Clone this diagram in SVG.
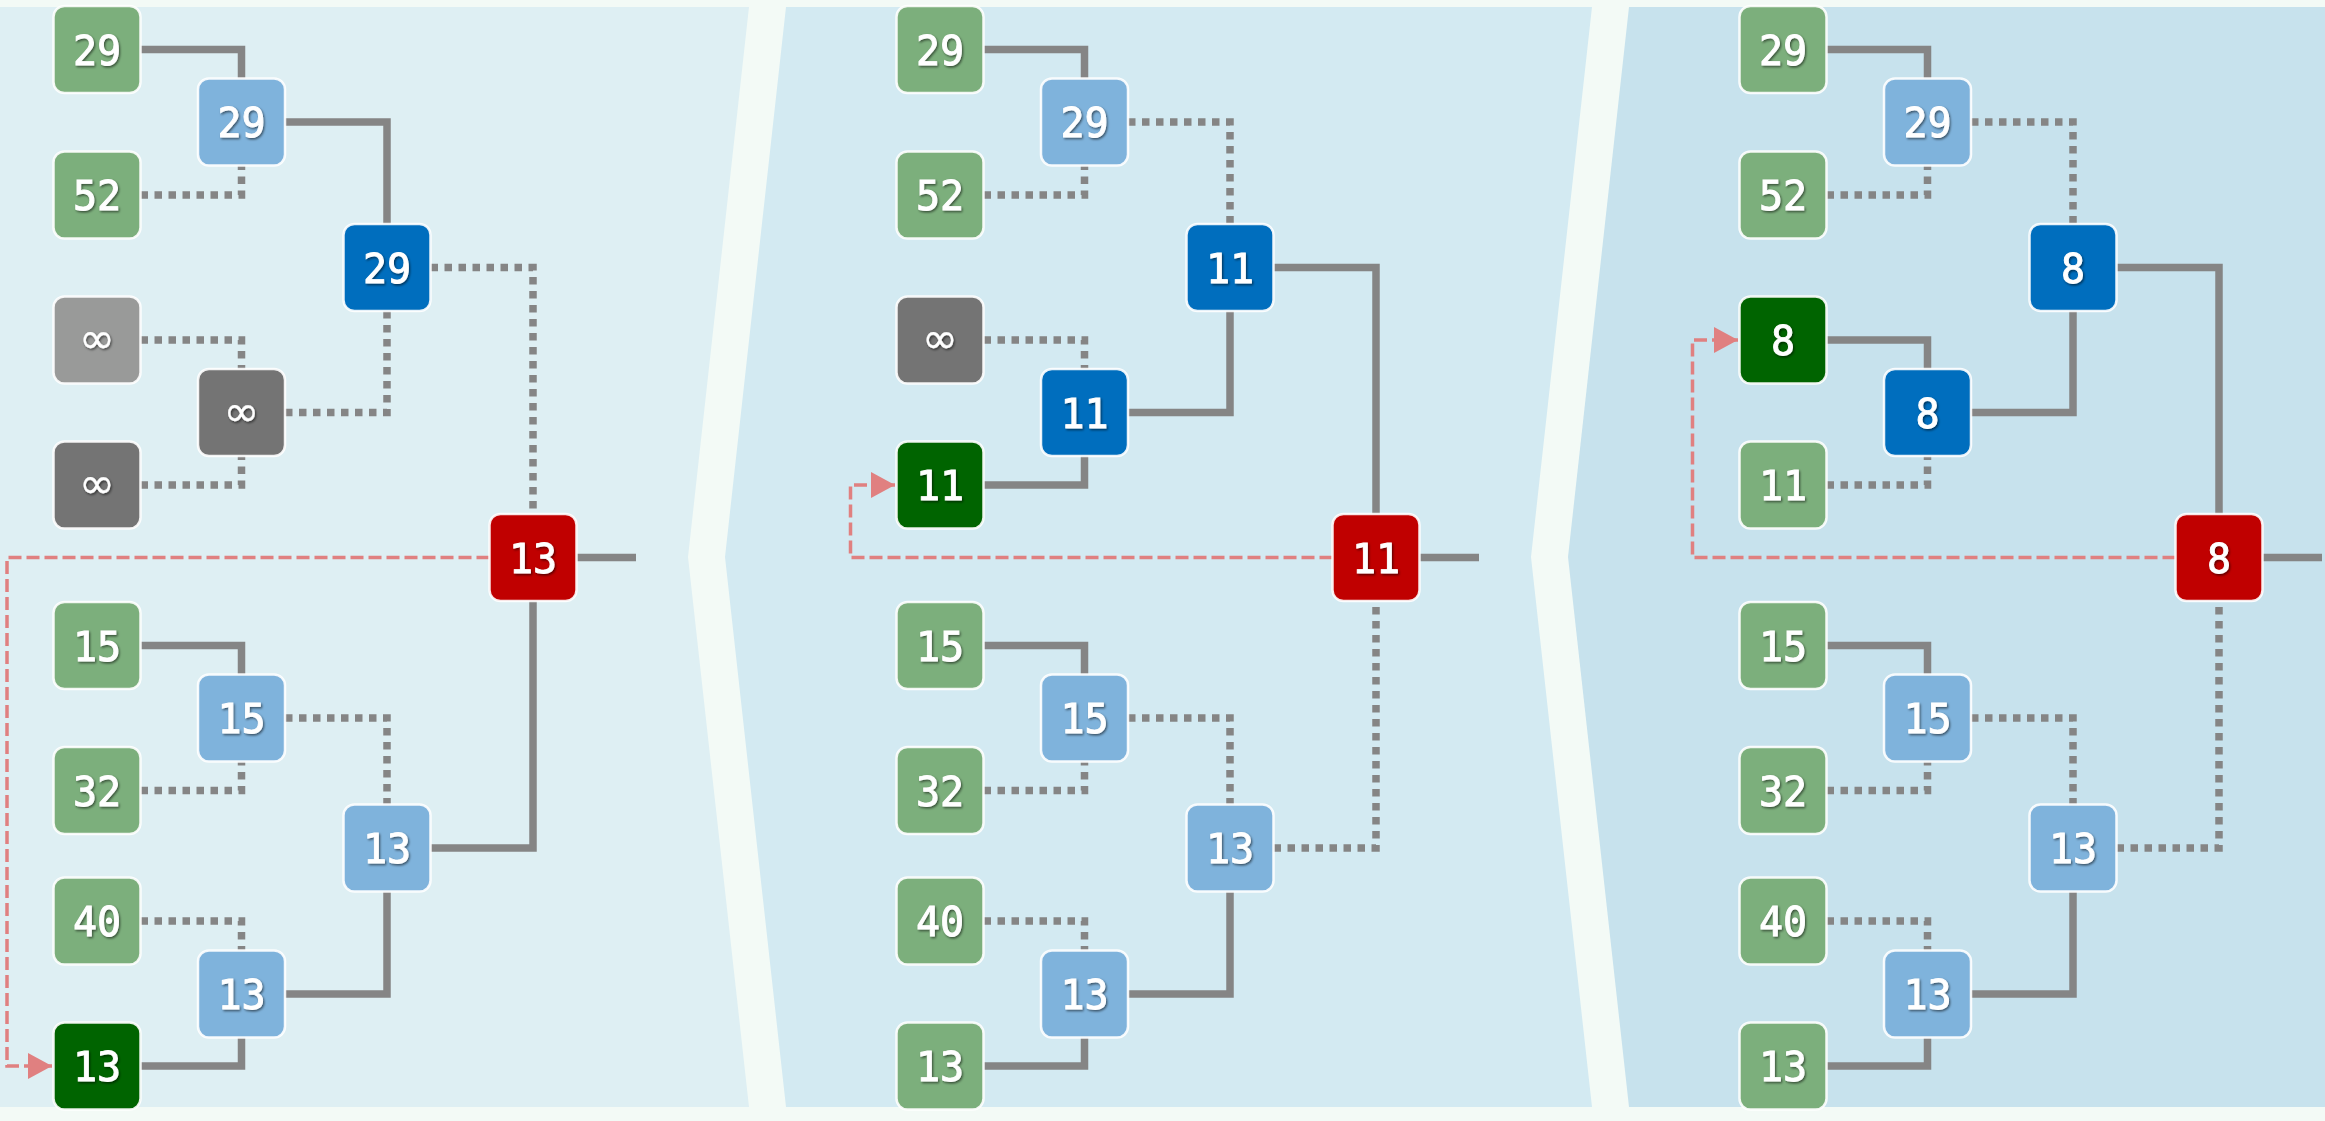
<svg xmlns="http://www.w3.org/2000/svg" width="2325" height="1121" viewBox="0 0 2325 1121">
<style>
.n{stroke:#ffffff;stroke-width:2.5;stroke-opacity:.9}
.green{fill:#7caf7c}.dgreen{fill:#006400}.lblue{fill:#7fb3dc}.dblue{fill:#006ebe}.red{fill:#c00000}.lgray{fill:#999a99}.dgray{fill:#747474}
text{font-family:"DejaVu Sans Mono","Liberation Mono",monospace;font-weight:normal;font-size:40px;fill:#ffffff;stroke:#ffffff;stroke-width:0.9;text-anchor:middle;filter:url(#ts)}
text.inf{font-family:"DejaVu Sans","Liberation Sans",sans-serif;font-weight:normal;font-size:43px;stroke-width:0.3}
.solid{fill:none;stroke:#858585;stroke-width:7.5}
.dot{fill:none;stroke:#858585;stroke-width:7.5;stroke-dasharray:7.5 6.5}
.sel{fill:none;stroke:#e08080;stroke-width:3.5;stroke-dasharray:13 5}
</style>
<defs>
<filter id="ts" x="-20%" y="-20%" width="140%" height="140%">
<feDropShadow dx="1.2" dy="1.5" stdDeviation="1" flood-color="#000000" flood-opacity="0.55"/>
</filter>
<marker id="ah" markerUnits="userSpaceOnUse" markerWidth="26" markerHeight="28" refX="24" refY="13" orient="auto">
<path d="M0,0 L24,13 L0,26 Z" fill="#e08080"/>
</marker>
</defs>
<rect x="0" y="0" width="2325" height="1121" fill="#f3faf6"/>
<g id="panels">
<path d="M0 7 H749 L688 557 L749 1107 H0 Z" fill="#deeff3"/>
<path d="M786 7 H1592 L1531 557 L1592 1107 H786 L725 557 Z" fill="#d3eaf2"/>
<path d="M1629 7 H2325 V1107 H1629 L1568 557 Z" fill="#c7e2ed"/>
</g>
<g id="connectors">
<g id="conn-p1">
<path class="solid" d="M140.5 49.5 H241.5 V78.5"/>
<path class="dot" d="M140.5 195 H241.5 V165.5"/>
<path class="dot" d="M140.5 340 H241.5 V369"/>
<path class="dot" d="M140.5 485 H241.5 V456"/>
<path class="solid" d="M285 122 H387 V224"/>
<path class="dot" d="M285 412.5 H387 V311"/>
<path class="dot" d="M430.5 267.5 H533 V514"/>
<path class="solid" d="M140.5 645.5 H241.5 V674.5"/>
<path class="dot" d="M140.5 790.5 H241.5 V761.5"/>
<path class="dot" d="M140.5 921 H241.5 V950.5"/>
<path class="solid" d="M140.5 1066 H241.5 V1037.5"/>
<path class="dot" d="M285 718 H387 V804.5"/>
<path class="solid" d="M285 994 H387 V891.5"/>
<path class="solid" d="M430.5 848 H533 V601"/>
<path class="solid" d="M576.5 557.5 H636"/>
<path class="sel" marker-end="url(#ah)" d="M489.5 557.5 H7 V1066 H52"/>
</g>
<g id="conn-p2" transform="translate(843,0)">
<path class="solid" d="M140.5 49.5 H241.5 V78.5"/>
<path class="dot" d="M140.5 195 H241.5 V165.5"/>
<path class="dot" d="M140.5 340 H241.5 V369"/>
<path class="solid" d="M140.5 485 H241.5 V456"/>
<path class="dot" d="M285 122 H387 V224"/>
<path class="solid" d="M285 412.5 H387 V311"/>
<path class="solid" d="M430.5 267.5 H533 V514"/>
<path class="solid" d="M140.5 645.5 H241.5 V674.5"/>
<path class="dot" d="M140.5 790.5 H241.5 V761.5"/>
<path class="dot" d="M140.5 921 H241.5 V950.5"/>
<path class="solid" d="M140.5 1066 H241.5 V1037.5"/>
<path class="dot" d="M285 718 H387 V804.5"/>
<path class="solid" d="M285 994 H387 V891.5"/>
<path class="dot" d="M430.5 848 H533 V601"/>
<path class="solid" d="M576.5 557.5 H636"/>
<path class="sel" marker-end="url(#ah)" d="M489.5 557.5 H7.5 V485 H52"/>
</g>
<g id="conn-p3" transform="translate(1686,0)">
<path class="solid" d="M140.5 49.5 H241.5 V78.5"/>
<path class="dot" d="M140.5 195 H241.5 V165.5"/>
<path class="solid" d="M140.5 340 H241.5 V369"/>
<path class="dot" d="M140.5 485 H241.5 V456"/>
<path class="dot" d="M285 122 H387 V224"/>
<path class="solid" d="M285 412.5 H387 V311"/>
<path class="solid" d="M430.5 267.5 H533 V514"/>
<path class="solid" d="M140.5 645.5 H241.5 V674.5"/>
<path class="dot" d="M140.5 790.5 H241.5 V761.5"/>
<path class="dot" d="M140.5 921 H241.5 V950.5"/>
<path class="solid" d="M140.5 1066 H241.5 V1037.5"/>
<path class="dot" d="M285 718 H387 V804.5"/>
<path class="solid" d="M285 994 H387 V891.5"/>
<path class="dot" d="M430.5 848 H533 V601"/>
<path class="solid" d="M576.5 557.5 H636"/>
<path class="sel" marker-end="url(#ah)" d="M489.5 557.5 H6.5 V340 H52"/>
</g>
</g>
<g id="nodes">
<!-- panel 1 -->
<g id="p1-leaf1" transform="translate(97,49.5)"><rect class="n green" x="-43.5" y="-43.5" width="87" height="87" rx="11"/><text y="15">29</text></g>
<g id="p1-leaf2" transform="translate(97,195)"><rect class="n green" x="-43.5" y="-43.5" width="87" height="87" rx="11"/><text y="15">52</text></g>
<g id="p1-leaf3" transform="translate(97,340)"><rect class="n lgray" x="-43.5" y="-43.5" width="87" height="87" rx="11"/><text class="inf" y="13">∞</text></g>
<g id="p1-leaf4" transform="translate(97,485)"><rect class="n dgray" x="-43.5" y="-43.5" width="87" height="87" rx="11"/><text class="inf" y="13">∞</text></g>
<g id="p1-leaf5" transform="translate(97,645.5)"><rect class="n green" x="-43.5" y="-43.5" width="87" height="87" rx="11"/><text y="15">15</text></g>
<g id="p1-leaf6" transform="translate(97,790.5)"><rect class="n green" x="-43.5" y="-43.5" width="87" height="87" rx="11"/><text y="15">32</text></g>
<g id="p1-leaf7" transform="translate(97,921)"><rect class="n green" x="-43.5" y="-43.5" width="87" height="87" rx="11"/><text y="15">40</text></g>
<g id="p1-leaf8" transform="translate(97,1066)"><rect class="n dgreen" x="-43.5" y="-43.5" width="87" height="87" rx="11"/><text y="15">13</text></g>
<g id="p1-l1a" transform="translate(241.5,122)"><rect class="n lblue" x="-43.5" y="-43.5" width="87" height="87" rx="11"/><text y="15">29</text></g>
<g id="p1-l1b" transform="translate(241.5,412.5)"><rect class="n dgray" x="-43.5" y="-43.5" width="87" height="87" rx="11"/><text class="inf" y="13">∞</text></g>
<g id="p1-l1c" transform="translate(241.5,718)"><rect class="n lblue" x="-43.5" y="-43.5" width="87" height="87" rx="11"/><text y="15">15</text></g>
<g id="p1-l1d" transform="translate(241.5,994)"><rect class="n lblue" x="-43.5" y="-43.5" width="87" height="87" rx="11"/><text y="15">13</text></g>
<g id="p1-l2a" transform="translate(387,267.5)"><rect class="n dblue" x="-43.5" y="-43.5" width="87" height="87" rx="11"/><text y="15">29</text></g>
<g id="p1-l2b" transform="translate(387,848)"><rect class="n lblue" x="-43.5" y="-43.5" width="87" height="87" rx="11"/><text y="15">13</text></g>
<g id="p1-root" transform="translate(533,557.5)"><rect class="n red" x="-43.5" y="-43.5" width="87" height="87" rx="11"/><text y="15">13</text></g>
<!-- panel 2 -->
<g id="p2-leaf1" transform="translate(940,49.5)"><rect class="n green" x="-43.5" y="-43.5" width="87" height="87" rx="11"/><text y="15">29</text></g>
<g id="p2-leaf2" transform="translate(940,195)"><rect class="n green" x="-43.5" y="-43.5" width="87" height="87" rx="11"/><text y="15">52</text></g>
<g id="p2-leaf3" transform="translate(940,340)"><rect class="n dgray" x="-43.5" y="-43.5" width="87" height="87" rx="11"/><text class="inf" y="13">∞</text></g>
<g id="p2-leaf4" transform="translate(940,485)"><rect class="n dgreen" x="-43.5" y="-43.5" width="87" height="87" rx="11"/><text y="15">11</text></g>
<g id="p2-leaf5" transform="translate(940,645.5)"><rect class="n green" x="-43.5" y="-43.5" width="87" height="87" rx="11"/><text y="15">15</text></g>
<g id="p2-leaf6" transform="translate(940,790.5)"><rect class="n green" x="-43.5" y="-43.5" width="87" height="87" rx="11"/><text y="15">32</text></g>
<g id="p2-leaf7" transform="translate(940,921)"><rect class="n green" x="-43.5" y="-43.5" width="87" height="87" rx="11"/><text y="15">40</text></g>
<g id="p2-leaf8" transform="translate(940,1066)"><rect class="n green" x="-43.5" y="-43.5" width="87" height="87" rx="11"/><text y="15">13</text></g>
<g id="p2-l1a" transform="translate(1084.5,122)"><rect class="n lblue" x="-43.5" y="-43.5" width="87" height="87" rx="11"/><text y="15">29</text></g>
<g id="p2-l1b" transform="translate(1084.5,412.5)"><rect class="n dblue" x="-43.5" y="-43.5" width="87" height="87" rx="11"/><text y="15">11</text></g>
<g id="p2-l1c" transform="translate(1084.5,718)"><rect class="n lblue" x="-43.5" y="-43.5" width="87" height="87" rx="11"/><text y="15">15</text></g>
<g id="p2-l1d" transform="translate(1084.5,994)"><rect class="n lblue" x="-43.5" y="-43.5" width="87" height="87" rx="11"/><text y="15">13</text></g>
<g id="p2-l2a" transform="translate(1230,267.5)"><rect class="n dblue" x="-43.5" y="-43.5" width="87" height="87" rx="11"/><text y="15">11</text></g>
<g id="p2-l2b" transform="translate(1230,848)"><rect class="n lblue" x="-43.5" y="-43.5" width="87" height="87" rx="11"/><text y="15">13</text></g>
<g id="p2-root" transform="translate(1376,557.5)"><rect class="n red" x="-43.5" y="-43.5" width="87" height="87" rx="11"/><text y="15">11</text></g>
<!-- panel 3 -->
<g id="p3-leaf1" transform="translate(1783,49.5)"><rect class="n green" x="-43.5" y="-43.5" width="87" height="87" rx="11"/><text y="15">29</text></g>
<g id="p3-leaf2" transform="translate(1783,195)"><rect class="n green" x="-43.5" y="-43.5" width="87" height="87" rx="11"/><text y="15">52</text></g>
<g id="p3-leaf3" transform="translate(1783,340)"><rect class="n dgreen" x="-43.5" y="-43.5" width="87" height="87" rx="11"/><text y="15">8</text></g>
<g id="p3-leaf4" transform="translate(1783,485)"><rect class="n green" x="-43.5" y="-43.5" width="87" height="87" rx="11"/><text y="15">11</text></g>
<g id="p3-leaf5" transform="translate(1783,645.5)"><rect class="n green" x="-43.5" y="-43.5" width="87" height="87" rx="11"/><text y="15">15</text></g>
<g id="p3-leaf6" transform="translate(1783,790.5)"><rect class="n green" x="-43.5" y="-43.5" width="87" height="87" rx="11"/><text y="15">32</text></g>
<g id="p3-leaf7" transform="translate(1783,921)"><rect class="n green" x="-43.5" y="-43.5" width="87" height="87" rx="11"/><text y="15">40</text></g>
<g id="p3-leaf8" transform="translate(1783,1066)"><rect class="n green" x="-43.5" y="-43.5" width="87" height="87" rx="11"/><text y="15">13</text></g>
<g id="p3-l1a" transform="translate(1927.5,122)"><rect class="n lblue" x="-43.5" y="-43.5" width="87" height="87" rx="11"/><text y="15">29</text></g>
<g id="p3-l1b" transform="translate(1927.5,412.5)"><rect class="n dblue" x="-43.5" y="-43.5" width="87" height="87" rx="11"/><text y="15">8</text></g>
<g id="p3-l1c" transform="translate(1927.5,718)"><rect class="n lblue" x="-43.5" y="-43.5" width="87" height="87" rx="11"/><text y="15">15</text></g>
<g id="p3-l1d" transform="translate(1927.5,994)"><rect class="n lblue" x="-43.5" y="-43.5" width="87" height="87" rx="11"/><text y="15">13</text></g>
<g id="p3-l2a" transform="translate(2073,267.5)"><rect class="n dblue" x="-43.5" y="-43.5" width="87" height="87" rx="11"/><text y="15">8</text></g>
<g id="p3-l2b" transform="translate(2073,848)"><rect class="n lblue" x="-43.5" y="-43.5" width="87" height="87" rx="11"/><text y="15">13</text></g>
<g id="p3-root" transform="translate(2219,557.5)"><rect class="n red" x="-43.5" y="-43.5" width="87" height="87" rx="11"/><text y="15">8</text></g>
</g>
</svg>
